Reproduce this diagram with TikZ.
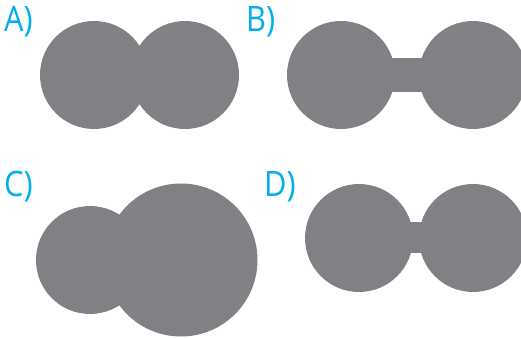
\documentclass[tikz,border=0pt]{standalone}
\usepackage{fontspec}
\setsansfont{Open Sans}[FakeStretch=0.88]
\definecolor{blobgray}{RGB}{128,129,133}
\definecolor{labelcyan}{RGB}{0,174,239}

\begin{document}
\begin{tikzpicture}[x=1pt, y=1pt,
  blob/.style={fill=blobgray, draw=none},
  tag/.style={anchor=base west, inner sep=0pt, text=labelcyan, font=\sffamily\fontsize{35}{35}\selectfont}]
  \useasboundingbox (0,0) rectangle (521,337);
  \clip (0,0) rectangle (521,337);
  % A) two overlapping equal spheres
  \node[tag] (labA) at (4,305) {A)};
  \fill[blob] (94,262) circle (54) (185,262) circle (54);
  % B) spheres joined by a long neck
  \node[tag] (labB) at (246,305) {B)};
  \fill[blob] (341,262) circle (54) (473,262) circle (54);
  \fill[blob] (341,245) rectangle (473,279);
  % C) small and large sphere
  \node[tag] (labC) at (4,140) {C)};
  \fill[blob] (90,77) circle (54) (181,77) circle (76.5);
  % D) spheres joined by a short neck
  \node[tag] (labD) at (264,140) {D)};
  \fill[blob] (359,99) circle (54) (473,99) circle (54);
  \fill[blob] (359,84) rectangle (473,115);
\end{tikzpicture}
\end{document}
